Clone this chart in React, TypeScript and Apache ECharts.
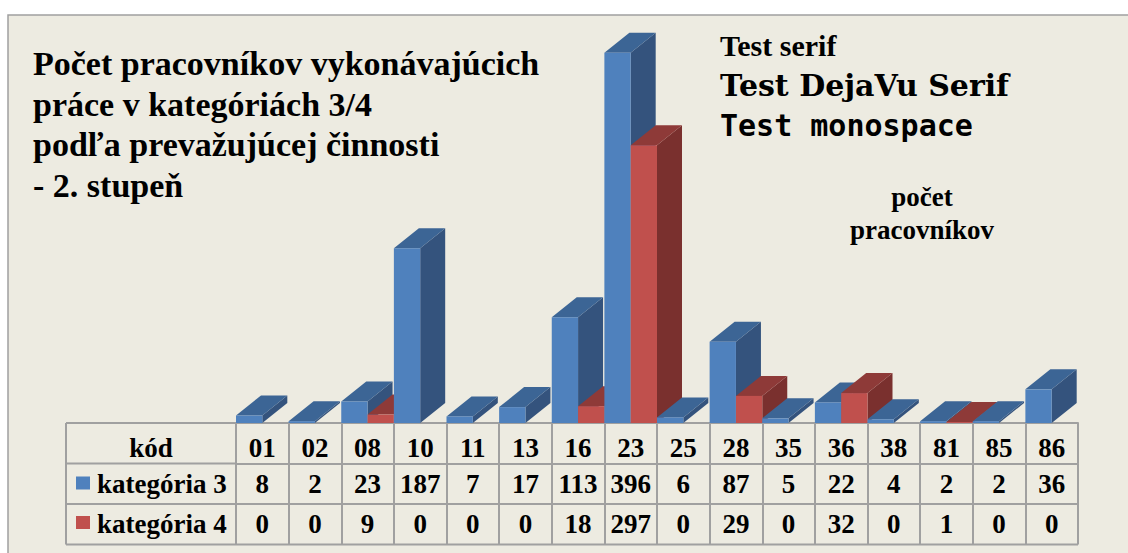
import React, { useEffect, useRef } from "react";
import * as echarts from "echarts";

const codes = ["01", "02", "08", "10", "11", "13", "16", "23", "25", "28", "35", "36", "38", "81", "85", "86"];
const kategoria3 = [8, 2, 23, 187, 7, 17, 113, 396, 6, 87, 5, 22, 4, 2, 2, 36];
const kategoria4 = [0, 0, 9, 0, 0, 0, 18, 297, 0, 29, 0, 32, 0, 1, 0, 0];
const seriesNames = ["kategória 3", "kategória 4"];
const headerLabel = "kód";
const titleLines = ["Počet pracovníkov vykonávajúcich", "práce v kategóriách 3/4", "podľa prevažujúcej činnosti", "- 2. stupeň"];
const axisTitle = ["počet", "pracovníkov"];
const testFams = ["serif", "DejaVu Serif", "monospace"];

const BLUE = { front: "#4F81BD", top: "#3C6595", side: "#34537D" };
const RED = { front: "#C0504D", top: "#8E3A38", side: "#7A302E" };
const BG = "#EDEBE1";
const LINE = "#A0A0A0";
const FONT = "Liberation Serif";

export default function App() {
  const ref = useRef<HTMLDivElement>(null);
  useEffect(() => {
    if (!ref.current) return;
    document.body.style.margin = "0";
    const chart = echarts.init(ref.current, null, { renderer: "svg" });
    const gridLeft = 236, gridRight = 50, gridBottom = 130, gridTop = 49;
    const tableTop = 553 - gridBottom;
    const rowH = 40.5;
    const DX = 25, DY = 20;

    const data = codes.map((c, i) => [i, kategoria3[i], kategoria4[i]]);

    const drawBar = (left: number, w: number, topY: number, baseY: number, col: any) => [
      {
        type: "polygon",
        shape: { points: [[left + w, topY], [left + w + DX, topY - DY], [left + w + DX, baseY - DY], [left + w, baseY]] },
        style: { fill: col.side },
      },
      {
        type: "polygon",
        shape: { points: [[left, topY], [left + w, topY], [left + w + DX, topY - DY], [left + DX, topY - DY]] },
        style: { fill: col.top },
      },
      {
        type: "rect",
        shape: { x: left, y: topY, width: w, height: Math.max(baseY - topY, 0) },
        style: { fill: col.front },
      },
    ];

    const renderItem = (params: any, api: any) => {
      const i = api.value(0);
      const v3 = api.value(1);
      const v4 = api.value(2);
      const base = api.coord([i, 0]);
      const band = api.size([1, 0])[0];
      const half = band / 2;
      const left = base[0] - half;
      const children: any[] = [];
      if (v3 > 0) children.push(...drawBar(left, half, api.coord([i, v3])[1], base[1], BLUE));
      if (v4 > 0) children.push(...drawBar(left + half, half, api.coord([i, v4])[1], base[1], RED));
      return { type: "group", children };
    };

    const tableAxis = (labels: (string | number)[], offset: number, margin: number) => ({
      type: "category",
      data: labels.map(String),
      position: "bottom",
      offset,
      boundaryGap: true,
      axisLine: { show: true, lineStyle: { color: LINE, width: 2 } },
      axisTick: { show: true, inside: false, length: rowH, alignWithLabel: false, lineStyle: { color: LINE, width: 2 } },
      axisLabel: { show: true, interval: 0, margin, fontFamily: FONT, fontWeight: "bold", fontSize: 27, color: "#000" },
      splitLine: { show: false },
    });

    const txt = (size: number, extra: any = {}) => ({
      fontFamily: FONT, fontWeight: "bold", fontSize: size, fill: "#000", ...extra,
    });

    const leftX = 66;
    const graphic: any[] = [
      {
        type: "rect", z: -10, silent: true,
        shape: { x: 8, y: 15, width: 1140, height: 560 },
        style: { fill: BG, stroke: LINE, lineWidth: 1.5 },
      },
      ...titleLines.map((t, k) => ({
        type: "text", x: 33, y: 46.5 + k * 40.7,
        style: { text: t, ...txt(34) },
      })),
      ...axisTitle.map((t, k) => ({
        type: "text", x: 922, y: 183.5 + k * 33,
        style: { text: t, ...txt(27, { align: "center" }) },
      })),
      ...testFams.map((f, k) => ({
        type: "text", x: 720, y: 30 + k * 40,
        style: { text: "Test " + f, fontFamily: f, fontWeight: "bold", fontSize: 30, fill: "#000" },
      })),
      { type: "line", shape: { x1: leftX, y1: tableTop, x2: gridLeft, y2: tableTop }, style: { stroke: LINE, lineWidth: 2 } },
      { type: "line", shape: { x1: leftX, y1: tableTop + rowH, x2: gridLeft, y2: tableTop + rowH }, style: { stroke: LINE, lineWidth: 2 } },
      { type: "line", shape: { x1: leftX, y1: tableTop + 2 * rowH, x2: gridLeft, y2: tableTop + 2 * rowH }, style: { stroke: LINE, lineWidth: 2 } },
      { type: "line", shape: { x1: leftX, y1: tableTop + 3 * rowH, x2: 1128 - gridRight, y2: tableTop + 3 * rowH }, style: { stroke: LINE, lineWidth: 2 } },
      { type: "line", shape: { x1: leftX, y1: tableTop, x2: leftX, y2: tableTop + 3 * rowH }, style: { stroke: LINE, lineWidth: 2 } },
      {
        type: "text", x: (leftX + gridLeft) / 2, y: tableTop + 11,
        style: { text: headerLabel, ...txt(27, { align: "center" }) },
      },
      { type: "rect", shape: { x: 76, y: tableTop + rowH + 13, width: 14, height: 13 }, style: { fill: BLUE.front } },
      { type: "rect", shape: { x: 76, y: tableTop + 2 * rowH + 12, width: 14, height: 13 }, style: { fill: RED.front } },
      { type: "text", x: 97, y: tableTop + rowH + 7, style: { text: seriesNames[0], ...txt(27) } },
      { type: "text", x: 97, y: tableTop + 2 * rowH + 6.5, style: { text: seriesNames[1], ...txt(27) } },
    ];

    chart.setOption({
      animation: false,
      backgroundColor: "#FFFFFF",
      grid: { left: gridLeft, right: gridRight, top: gridTop, bottom: gridBottom, containLabel: false },
      xAxis: [
        tableAxis(codes, 0, 11),
        tableAxis(kategoria3, rowH, 7),
        tableAxis(kategoria4, 2 * rowH, 6.5),
      ],
      yAxis: { type: "value", min: 0, max: 400, show: false, splitLine: { show: false } },
      graphic,
      series: [
        {
          type: "custom",
          name: seriesNames.join(" / "),
          xAxisIndex: 0,
          renderItem,
          encode: { x: 0, y: [1, 2] },
          data,
          clip: false,
        },
      ],
    });
    return () => chart.dispose();
  }, []);
  return <div><div ref={ref} style={{ width: 1128, height: 553 }} /></div>;
}
